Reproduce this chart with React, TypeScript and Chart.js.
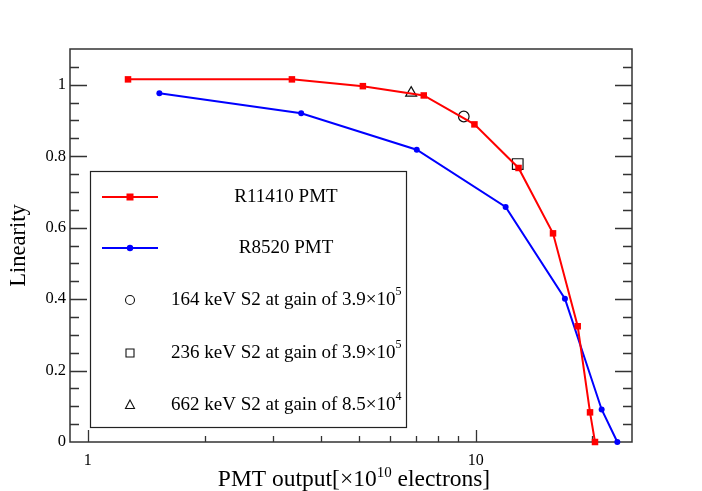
import React, { useEffect, useRef } from "react";
import { Chart, registerables } from "chart.js";

Chart.register(...registerables);

// ---- data ----
const r11410X = [1.27, 3.36, 5.12, 7.35, 9.93, 12.9, 15.83, 18.33, 19.72, 20.31];
const r11410Y = [1.015, 1.015, 0.996, 0.97, 0.889, 0.767, 0.584, 0.324, 0.083, 0.0];
const r8520X = [1.53, 3.55, 7.05, 11.95, 16.99, 21.13, 23.19];
const r8520Y = [0.976, 0.92, 0.818, 0.658, 0.401, 0.091, 0.0];
const s2CircleX = [9.32];
const s2CircleY = [0.911];
const s2SquareX = [12.84];
const s2SquareY = [0.778];
const s2TriangleX = [6.82];
const s2TriangleY = [0.977];

const legendLabels = [
  "R11410 PMT",
  "R8520 PMT",
  "164 keV S2 at gain of 3.9\u00d710",
  "236 keV S2 at gain of 3.9\u00d710",
  "662 keV S2 at gain of 8.5\u00d710",
];
const legendSups = ["", "", "5", "5", "4"];

const xTickValues = [1, 10];
const xMinorValues = [2, 3, 4, 5, 6, 7, 8, 9, 20];
const yTickValues = [0, 0.2, 0.4, 0.6, 0.8, 1];

const xTitleMain = "PMT output[\u00d710";
const xTitleSup = "10";
const xTitleEnd = " electrons]";
const yTitle = "Linearity";

const SERIF = '"Liberation Serif", "DejaVu Serif", serif';

const zip = (xs: number[], ys: number[]) => xs.map((x, i) => ({ x, y: ys[i] }));

const framePlugin = {
  id: "rootFrame",
  beforeDatasetsDraw(chart: any) {
    const { ctx, chartArea: a, scales } = chart;
    const xs = scales.x;
    const ys = scales.y;
    ctx.save();
    ctx.strokeStyle = "#333";
    ctx.lineWidth = 1.5;
    ctx.strokeRect(a.left, a.top, a.right - a.left, a.bottom - a.top);
    ctx.lineWidth = 1.3;
    ctx.beginPath();
    for (let i = 1; i < 22; i++) {
      const v = i * 0.05;
      const py = Math.round(ys.getPixelForValue(v)) + 0.5;
      const major = i % 4 === 0;
      const len = major ? 17 : 9;
      ctx.moveTo(a.left, py);
      ctx.lineTo(a.left + len, py);
      ctx.moveTo(a.right, py);
      ctx.lineTo(a.right - len, py);
    }
    xTickValues.forEach((v) => {
      const px = Math.round(xs.getPixelForValue(v)) + 0.5;
      ctx.moveTo(px, a.bottom);
      ctx.lineTo(px, a.bottom - 12);
    });
    xMinorValues.forEach((v) => {
      const px = Math.round(xs.getPixelForValue(v)) + 0.5;
      ctx.moveTo(px, a.bottom);
      ctx.lineTo(px, a.bottom - 6);
    });
    ctx.stroke();
    ctx.restore();
  },
  afterDraw(chart: any) {
    const { ctx, chartArea: a } = chart;
    ctx.save();
    ctx.fillStyle = "#000";
    // X title with superscript
    const mainFont = `23.5px ${SERIF}`;
    const supFont = `15px ${SERIF}`;
    ctx.font = mainFont;
    const w1 = ctx.measureText(xTitleMain).width;
    const w3 = ctx.measureText(xTitleEnd).width;
    ctx.font = supFont;
    const w2 = ctx.measureText(xTitleSup).width;
    const total = w1 + w2 + w3;
    let tx = 354 - total / 2;
    const base = 486;
    ctx.textBaseline = "alphabetic";
    ctx.textAlign = "left";
    ctx.font = mainFont;
    ctx.fillText(xTitleMain, tx, base);
    tx += w1;
    ctx.font = supFont;
    ctx.fillText(xTitleSup, tx, base - 9.5);
    tx += w2;
    ctx.font = mainFont;
    ctx.fillText(xTitleEnd, tx, base);

    // Y title
    ctx.save();
    ctx.translate(25, (a.top + a.bottom) / 2);
    ctx.rotate(-Math.PI / 2);
    ctx.font = `22.5px ${SERIF}`;
    ctx.textAlign = "center";
    ctx.textBaseline = "alphabetic";
    ctx.fillText(yTitle, 0, 0);
    ctx.restore();

    // Legend
    const lx = 90, ly = 171, lw = 316, lh = 256;
    ctx.fillStyle = "#fff";
    ctx.fillRect(lx, ly, lw, lh);
    ctx.strokeStyle = "#222";
    ctx.lineWidth = 1.2;
    ctx.strokeRect(lx + 0.5, ly + 0.5, lw, lh);
    const rows = [197, 248, 300, 353, 405];
    const ds = chart.data.datasets;
    legendLabels.forEach((label, i) => {
      const ry = rows[i];
      const d = ds[i];
      if (i < 2) {
        ctx.strokeStyle = d.borderColor;
        ctx.lineWidth = 2;
        ctx.beginPath();
        ctx.moveTo(102, ry);
        ctx.lineTo(158, ry);
        ctx.stroke();
        ctx.fillStyle = d.pointBackgroundColor;
        if (i === 0) {
          ctx.fillRect(130 - 3.5, ry - 3.5, 7, 7);
        } else {
          ctx.beginPath();
          ctx.arc(130, ry, 3.2, 0, Math.PI * 2);
          ctx.fill();
        }
      } else {
        ctx.strokeStyle = "#111";
        ctx.lineWidth = 1.1;
        ctx.beginPath();
        if (i === 2) {
          ctx.arc(130, ry, 4.5, 0, Math.PI * 2);
        } else if (i === 3) {
          ctx.rect(126, ry - 4, 8, 8);
        } else {
          ctx.moveTo(130, ry - 5);
          ctx.lineTo(134.5, ry + 3.5);
          ctx.lineTo(125.5, ry + 3.5);
          ctx.closePath();
        }
        ctx.stroke();
      }
      ctx.fillStyle = "#000";
      ctx.font = `19px ${SERIF}`;
      ctx.textBaseline = "middle";
      const sup = legendSups[i];
      if (i < 2) {
        ctx.textAlign = "center";
        ctx.fillText(label, 286, ry);
      } else {
        ctx.textAlign = "left";
        ctx.fillText(label, 171, ry);
        const lw1 = ctx.measureText(label).width;
        ctx.font = `12px ${SERIF}`;
        ctx.fillText(sup, 171 + lw1, ry - 8);
      }
    });
    ctx.restore();
  },
};

export default function App() {
  const ref = useRef<HTMLCanvasElement | null>(null);
  useEffect(() => {
    if (!ref.current) return;
    const chart = new Chart(ref.current, {
      type: "scatter",
      data: {
        datasets: [
          {
            label: legendLabels[0],
            data: zip(r11410X, r11410Y),
            showLine: true,
            borderColor: "#ff0000",
            backgroundColor: "#ff0000",
            pointBackgroundColor: "#ff0000",
            pointBorderColor: "#ff0000",
            borderWidth: 2,
            pointStyle: "rect",
            pointRadius: 4.6,
            pointBorderWidth: 0,
            clip: false,
          } as any,
          {
            label: legendLabels[1],
            data: zip(r8520X, r8520Y),
            showLine: true,
            borderColor: "#0000ff",
            backgroundColor: "#0000ff",
            pointBackgroundColor: "#0000ff",
            pointBorderColor: "#0000ff",
            borderWidth: 2,
            pointStyle: "circle",
            pointRadius: 3,
            pointBorderWidth: 0,
            clip: false,
          } as any,
          {
            label: legendLabels[2],
            data: zip(s2CircleX, s2CircleY),
            showLine: false,
            pointStyle: "circle",
            pointRadius: 5.3,
            pointBorderWidth: 1.2,
            pointBorderColor: "#111",
            pointBackgroundColor: "rgba(0,0,0,0)",
            clip: false,
          } as any,
          {
            label: legendLabels[3],
            data: zip(s2SquareX, s2SquareY),
            showLine: false,
            pointStyle: "rect",
            pointRadius: 7.5,
            pointBorderWidth: 1.2,
            pointBorderColor: "#111",
            pointBackgroundColor: "rgba(0,0,0,0)",
            clip: false,
          } as any,
          {
            label: legendLabels[4],
            data: zip(s2TriangleX, s2TriangleY),
            showLine: false,
            pointStyle: "triangle",
            pointRadius: 6.3,
            pointBorderWidth: 1.2,
            pointBorderColor: "#111",
            pointBackgroundColor: "rgba(0,0,0,0)",
            clip: false,
          } as any,
        ],
      },
      options: {
        animation: false,
        responsive: false,
        events: [],
        layout: { padding: { left: 0, top: 49, right: 70, bottom: 0 } },
        plugins: { legend: { display: false }, tooltip: { enabled: false } },
        scales: {
          x: {
            type: "logarithmic",
            min: 0.9,
            max: 25.3,
            grid: { display: false, drawTicks: false },
            border: { display: false },
            afterBuildTicks: (s: any) => {
              s.ticks = xTickValues.map((v) => ({ value: v }));
            },
            afterFit: (s: any) => {
              s.height = 49;
            },
            ticks: {
              autoSkip: false,
              maxRotation: 0,
              padding: 9,
              color: "#000",
              font: { family: SERIF, size: 16 },
              callback: (v: any) => String(v),
            },
          },
          y: {
            type: "linear",
            min: 0,
            max: 1.1,
            grid: { display: false, drawTicks: false },
            border: { display: false },
            afterBuildTicks: (s: any) => {
              s.ticks = yTickValues.map((v) => ({ value: v }));
            },
            afterFit: (s: any) => {
              s.width = 70;
            },
            ticks: {
              autoSkip: false,
              padding: 4,
              color: "#000",
              font: { family: SERIF, size: 16.5 },
              callback: (v: any) => String(Math.round(Number(v) * 10) / 10),
            },
          },
        },
      } as any,
      plugins: [framePlugin],
    });
    return () => chart.destroy();
  }, []);
  return (
    <div style={{ position: "fixed", left: 0, top: 0, width: 702, height: 491, background: "#fff" }}>
      <canvas ref={ref} width={702} height={491} style={{ width: 702, height: 491 }} />
    </div>
  );
}
